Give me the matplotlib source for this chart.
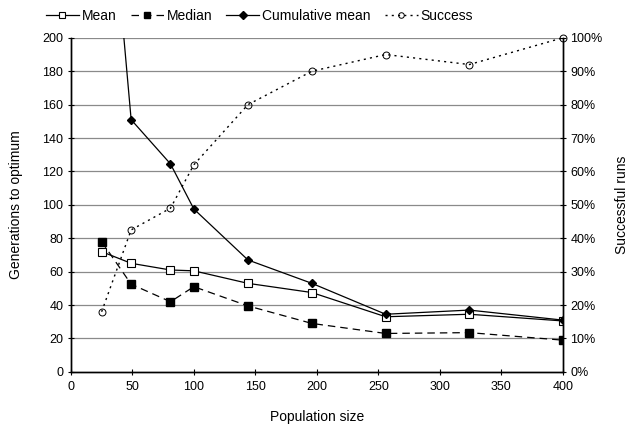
import matplotlib
matplotlib.use("Agg")
import matplotlib.pyplot as plt
from matplotlib.ticker import FuncFormatter

plt.rcParams['font.family'] = ['Liberation Sans', 'DejaVu Sans']

pop = [25, 49, 81, 100, 144, 196, 256, 324, 400]
mean = [72, 65, 61, 60.5, 53, 47.5, 33, 34.5, 30.5]
median = [78, 52.5, 42, 51, 39.5, 29, 23, 23.5, 19]
cum_mean = [350, 151, 124.5, 97.5, 67, 53, 34.5, 37, 31]
success = [18, 42.5, 49, 62, 80, 90, 95, 92, 100]

fig = plt.figure(figsize=(6.33, 4.25), dpi=100)
ax = fig.add_axes([0.112, 0.125, 0.777, 0.786])
ax2 = ax.twinx()

ax.set_xlim(0, 400)
ax.set_ylim(0, 200)
ax2.set_ylim(0, 100)
ax.set_xticks(range(0, 401, 50))
ax.set_yticks(range(0, 201, 20))
ax2.set_yticks(range(0, 101, 10))
ax2.yaxis.set_major_formatter(FuncFormatter(lambda v, p: f"{int(v)}%"))

for y in range(20, 201, 20):
    ax.axhline(y, color='#8a8a8a', lw=0.9, zorder=0)

l1, = ax.plot(pop, mean, color='black', lw=0.9, marker='s', ms=6,
              mfc='white', mec='black', mew=0.8, label='Mean', zorder=3)
l2, = ax.plot(pop, median, color='black', lw=0.9, ls=(0, (6, 4)), marker='s', ms=6,
              mfc='black', mec='black', label='Median', zorder=3)
l3, = ax.plot(pop, cum_mean, color='black', lw=0.9, marker='D', ms=4.5,
              mfc='black', mec='black', label='Cumulative mean', zorder=3)
l4, = ax2.plot(pop, success, color='black', lw=1.0, ls=(0, (1.5, 3)), marker='o', ms=5,
               mfc='none', mec='black', mew=0.7, label='Success', zorder=3, clip_on=False)

for a in (ax, ax2):
    a.spines['top'].set_visible(False)
    a.tick_params(labelsize=9, direction='inout', length=5, width=0.8, colors='black')
    for s in a.spines.values():
        s.set_linewidth(1.0)
ax.tick_params(axis='y', pad=3)
ax2.tick_params(axis='y', pad=3)
ax.tick_params(axis='x', pad=4)

ax.set_xlabel('Population size', fontsize=10, labelpad=12)
ax.set_ylabel('Generations to optimum', fontsize=10, labelpad=14)
ax2.set_ylabel('Successful runs', fontsize=10, labelpad=9)

fig.legend(handles=[l1, l2, l3, l4], loc='upper center', bbox_to_anchor=(0.41, 1.008),
           ncol=4, frameon=False, fontsize=10, handlelength=2.4, columnspacing=1.0,
           handletextpad=0.2, markerscale=0.8)

fig.savefig('out.png', dpi=100)
